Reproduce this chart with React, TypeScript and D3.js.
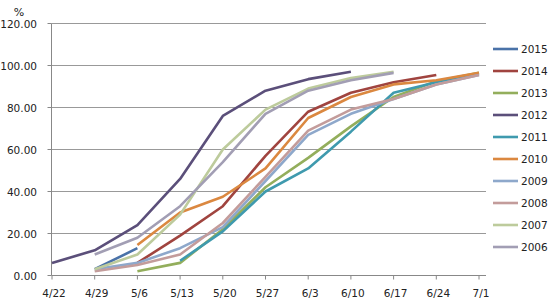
import React from "react";
import * as d3 from "d3";

const weeks = ["4/22", "4/29", "5/6", "5/13", "5/20", "5/27", "6/3", "6/10", "6/17", "6/24", "7/1"];
const yTicks = [0, 20, 40, 60, 80, 100, 120];
const years = ["2015", "2014", "2013", "2012", "2011", "2010", "2009", "2008", "2007", "2006"];
const colors = ["#4A72A8", "#A0443F", "#93AE5C", "#5B4F7A", "#3F9AAE", "#DB8840", "#8EA8CB", "#C39C9B", "#BDCB9C", "#A29EB4"];

const s2015 = [null, 3, 13];
const s2014 = [null, null, 6, 19, 33, 57, 78, 87, 92, 95.5];
const s2013 = [null, null, 2, 6, 22, 42, 56, 71, 85, 92.5, 96.5];
const s2012 = [6, 12, 24, 46, 76, 88, 93.5, 97];
const s2011 = [null, null, null, 7, 21, 40, 51, 68.5, 87, 92, 96];
const s2010 = [null, null, 14.5, 30, 37.5, 51, 75, 85, 91, 93, 96.5];
const s2009 = [null, 3, 6, 13, 23, 45, 67, 77, 84, 91, 95.5];
const s2008 = [null, 2, 5, 10, 25, 47, 69, 79, 84, 91, 95.5];
const s2007 = [null, 3, 10, 29, 60, 79, 89, 94, 97];
const s2006 = [null, 10, 18, 33, 54, 77, 88, 93, 96.5];

const seriesValues: (number | null)[][] = [s2015, s2014, s2013, s2012, s2011, s2010, s2009, s2008, s2007, s2006];

const W = 550;
const H = 300;
const left = 51.5;
const right = 486;
const top = 23.5;
const bottom = 275.5;
const font = "'DejaVu Sans', Verdana, sans-serif";

export default function App() {
  const x = d3.scaleLinear().domain([0, weeks.length - 1]).range([52, 479]);
  const y = d3.scaleLinear().domain([0, 120]).range([bottom, top]);
  const line = d3
    .line<number | null>()
    .defined((d) => d !== null)
    .x((_, i) => x(i))
    .y((d) => y(d as number));

  return (
    <svg width={W} height={H} style={{ position: "absolute", left: 0, top: 0, background: "#fff" }}>
      <rect width={W} height={H} fill="#fff" />
      {yTicks.map((t) => (
        <g key={t}>
          {t > 0 && <line x1={left} x2={right} y1={y(t)} y2={y(t)} stroke="#999" strokeWidth={1} />}
          <line x1={left - 4} x2={left} y1={y(t)} y2={y(t)} stroke="#888" strokeWidth={1} />
          <text x={37} y={y(t) + 4} textAnchor="end" fontSize={10.5} fontFamily={font} fill="#222">
            {t.toFixed(2)}
          </text>
        </g>
      ))}
      <text x={19} y={16} textAnchor="middle" fontSize={11} fontFamily={font} fill="#222">%</text>
      <line x1={left} x2={left} y1={top} y2={bottom} stroke="#888" strokeWidth={1} />
      <line x1={left} x2={right} y1={bottom} y2={bottom} stroke="#888" strokeWidth={1} />
      {weeks.map((w, i) => (
        <g key={w}>
          <line x1={x(i)} x2={x(i)} y1={bottom} y2={bottom + 4} stroke="#888" strokeWidth={1} />
          <text x={x(i) + 2} y={297} textAnchor="middle" fontSize={10.5} fontFamily={font} fill="#222">
            {w}
          </text>
        </g>
      ))}
      {seriesValues.map((vals, k) => (
        <path key={years[k]} d={line(vals) || ""} fill="none" stroke={colors[k]} strokeWidth={2.6} strokeLinejoin="round" />
      ))}
      {years.map((yr, k) => {
        const ly = 49 + k * 22;
        return (
          <g key={yr}>
            <line x1={493} x2={518} y1={ly} y2={ly} stroke={colors[k]} strokeWidth={2.6} />
            <text x={521} y={ly + 4} fontSize={10.5} fontFamily={font} fill="#222">
              {yr}
            </text>
          </g>
        );
      })}
    </svg>
  );
}
